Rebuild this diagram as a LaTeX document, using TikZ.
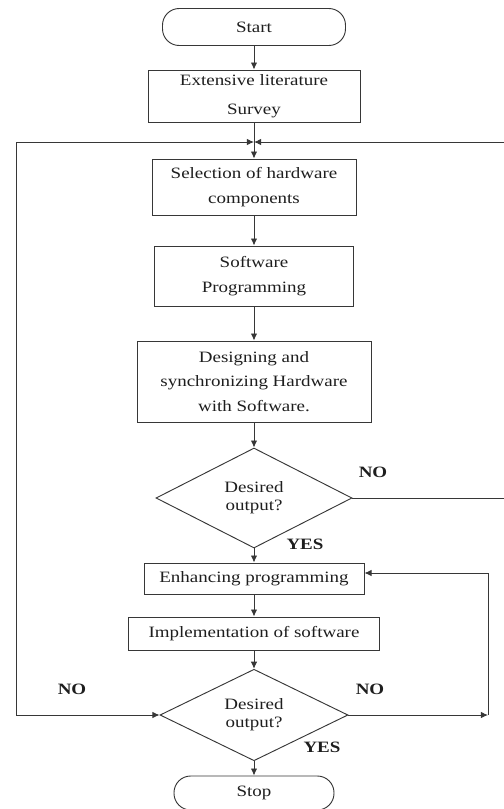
\documentclass[tikz,border=0pt]{standalone}
\usepackage{fontspec}
\setmainfont[FakeStretch=1.2]{Liberation Serif}
\usetikzlibrary{arrows.meta,shapes.geometric,positioning}
\definecolor{LineGray}{RGB}{55,55,55}
\definecolor{TextBlack}{RGB}{30,30,30}

\begin{document}
\begin{tikzpicture}[x=0.03cm,y=-0.03cm,>={Latex[length=6pt,width=5.5pt]},
    every node/.style={font=\fontsize{13.5}{21}\selectfont,text=TextBlack},
    proc/.style={draw=LineGray,line width=0.8pt,rectangle,align=center,inner sep=2pt},
    term/.style={draw=LineGray,line width=0.8pt,rectangle,rounded corners=0.5cm},
    decide/.style={draw=LineGray,line width=0.8pt,diamond,align=center,inner sep=0pt,
      font=\fontsize{13.5}{15.5}\selectfont},
    lab/.style={font=\fontsize{13.5}{15}\selectfont\bfseries},
    flow/.style={->,draw=LineGray,line width=0.8pt}]
  \useasboundingbox (0,0) rectangle (504,809);
  % main column
  \node[term,minimum width=5.49cm,minimum height=1.11cm] (start) at (254,27) {Start};
  \node[proc,minimum width=6.36cm,minimum height=1.56cm] (survey) at (254,96) {Extensive literature\\[4pt]Survey};
  \node[proc,minimum width=6.12cm,minimum height=1.68cm] (select) at (254,187) {Selection of hardware\\components};
  \node[proc,minimum width=5.97cm,minimum height=1.8cm] (soft) at (254,276) {Software\\Programming};
  \node[proc,minimum width=7.02cm,minimum height=2.43cm] (design) at (254,381.5) {Designing and\\synchronizing Hardware\\with Software.};
  \node[decide,minimum width=5.88cm,minimum height=3.0cm] (check1) at (254,498) {Desired\\output?};
  \node[proc,minimum width=6.6cm,minimum height=0.93cm] (enhance) at (254,578.5) {Enhancing programming};
  \node[proc,minimum width=7.53cm,minimum height=0.99cm] (implement) at (254,633.5) {Implementation of software};
  \node[decide,minimum width=5.64cm,minimum height=2.58cm] (check2) at (254,715) {Desired\\output?};
  \node[term,minimum width=4.8cm,minimum height=1.02cm] (stop) at (254,793) {Stop};
  % labels
  \node[lab] (no1) at (373,472) {NO};
  \node[lab] (yes1) at (305,544) {YES};
  \node[lab] (no2) at (72,689) {NO};
  \node[lab] (no3) at (370,689) {NO};
  \node[lab] (yes2) at (322,747) {YES};
  % loop corners
  \coordinate (join) at (254,142);
  \coordinate (ltop) at (16,142);
  \coordinate (lbot) at (16,715);
  \coordinate (rtop) at (512,142);
  \coordinate (rmid) at (512,498);
  \coordinate (rbend) at (488,715);
  \coordinate (rup) at (488,573);
  % connectors
  \draw[flow] (start) -- (survey);
  \draw[flow] (survey) -- (select);
  \draw[flow] (select) -- (soft);
  \draw[flow] (soft) -- (design);
  \draw[flow] (design) -- (check1);
  \draw[flow] (check1) -- (enhance);
  \draw[flow] (enhance) -- (implement);
  \draw[flow] (implement) -- (check2);
  \draw[flow] (check2) -- (stop);
  \draw[flow] (check1.east) -- (rmid) -- (rtop) -- (join);
  \draw[flow,<->] (join) -- (ltop) -- (lbot) -- (check2.west);
  \draw[flow] (check2.east) -- (rbend);
  \draw[flow] (rbend) -- (rup) -- (rup -| enhance.east);
\end{tikzpicture}
\end{document}
